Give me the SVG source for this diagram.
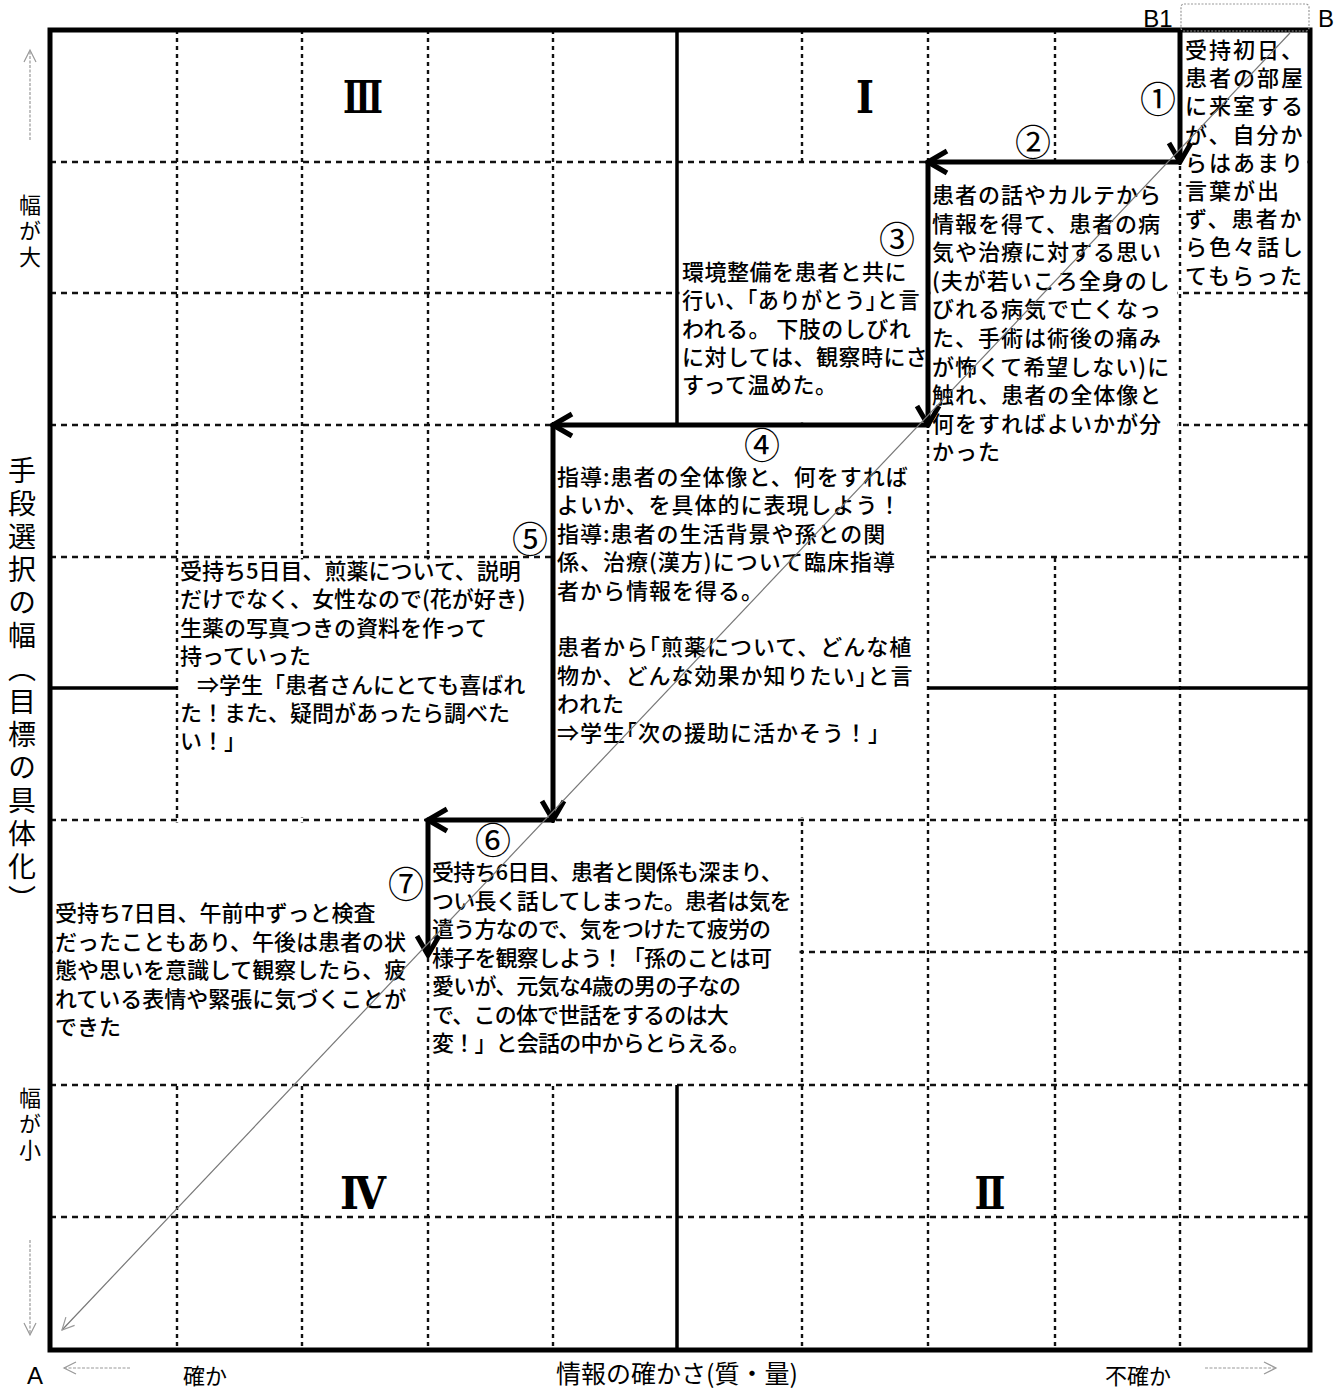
<svg xmlns="http://www.w3.org/2000/svg" width="1343" height="1390" viewBox="0 0 1343 1390">
<style>
.hd{stroke:#111;stroke-width:2.4;stroke-dasharray:6 5;fill:none}
.vd{stroke:#111;stroke-width:2.4;stroke-dasharray:4 4;fill:none}
.solid{stroke:#000;stroke-width:3.5;fill:none}
.border{stroke:#000;stroke-width:5;fill:none}
.arrow{stroke:#000;stroke-width:5;fill:none}
.cover{fill:#fff;stroke:none}
.t{font-family:"Noto Sans CJK JP","Noto Sans",sans-serif;font-size:22px;font-weight:500;fill:#000}
.num{font-family:"Noto Sans CJK JP","DejaVu Sans",sans-serif;font-size:36px;fill:#000;text-anchor:middle;dominant-baseline:central}
.rom{font-family:"DejaVu Serif","Liberation Serif",serif;font-weight:bold;font-size:44px;fill:#000;text-anchor:middle;dominant-baseline:central}
.ax{font-family:"Noto Sans CJK JP",sans-serif;font-size:22px;fill:#000}
.h{font-feature-settings:"halt" 1}
.gray{stroke:#999;stroke-width:1.2;fill:none;stroke-dasharray:3 1.5}
</style>
<defs>
<marker id="ah" markerUnits="userSpaceOnUse" markerWidth="30" markerHeight="30" viewBox="0 0 30 30" refX="27" refY="15" orient="auto"><path d="M8,4 L27,15 L8,26" fill="none" stroke="#000" stroke-width="5"/></marker>
<marker id="gh" markerUnits="userSpaceOnUse" markerWidth="20" markerHeight="20" viewBox="0 0 20 20" refX="18" refY="10" orient="auto"><path d="M6,4 L18,10 L6,16" fill="none" stroke="#999" stroke-width="1.2"/></marker>
</defs>
<rect width="1343" height="1390" fill="#fff"/>

<g id="grid">
<path class="hd" d="M50,162H1310M50,293H1310M50,425H1310M50,557H1310M50,820H1310M50,952H1310M50,1085H1310M50,1217H1310"/>
<path class="vd" d="M177,30V1350M302,30V1350M428,30V1350M553,30V1350M802,30V1350M928,30V1350M1055,30V1350M1180,30V1350"/>
</g>

<g id="covers">
<rect class="cover" x="1182.5" y="32.5" width="125" height="258"/>
<rect class="cover" x="930.5" y="164.5" width="247" height="390"/>
<rect class="cover" x="679.5" y="164.5" width="246" height="258"/>
<rect class="cover" x="555.5" y="427.5" width="370" height="390"/>
<rect class="cover" x="179.5" y="559.5" width="371" height="258"/>
<rect class="cover" x="430.5" y="822.5" width="369" height="260"/>
<rect class="cover" x="52.5" y="822.5" width="373" height="260"/>
</g>

<g id="frame">
<path class="solid" d="M677,30V425M677,1085V1350M50,688H177M928,688H1310"/>
<rect class="border" x="50" y="30" width="1260" height="1320"/>
<rect x="1181" y="4" width="128" height="27" rx="3" fill="none" stroke="#999" stroke-width="1.2" stroke-dasharray="2 1.5"/>
</g>

<g id="connectors">
<path class="arrow" d="M1180,30V162" marker-end="url(#ah)"/>
<path class="arrow" d="M1180,162H928" marker-end="url(#ah)"/>
<path class="arrow" d="M928,162V425" marker-end="url(#ah)"/>
<path class="arrow" d="M928,425H553" marker-end="url(#ah)"/>
<path class="arrow" d="M553,425V820" marker-end="url(#ah)"/>
<path class="arrow" d="M553,820H428" marker-end="url(#ah)"/>
<path class="arrow" d="M428,820V955" marker-end="url(#ah)"/>
</g>

<g id="node1">
<text class="t" letter-spacing="2" y="58"><tspan x="1185">受持初日、</tspan><tspan x="1185" dy="28.2">患者の部屋</tspan><tspan x="1185" dy="28.2">に来室する</tspan><tspan x="1185" dy="28.2">が、自分か</tspan><tspan x="1185" dy="28.2">らはあまり</tspan><tspan x="1185" dy="28.2">言葉が出</tspan><tspan x="1185" dy="28.2">ず、患者か</tspan><tspan x="1185" dy="28.2">ら色々話し</tspan><tspan x="1185" dy="28.2">てもらった</tspan></text>
<text class="num" x="1158" y="97">①</text>
</g>

<g id="node2">
<text class="t" letter-spacing="1" y="203"><tspan x="932">患者の話やカルテから</tspan><tspan x="932" dy="28.6">情報を得て、患者の病</tspan><tspan x="932" dy="28.6">気や治療に対する思い</tspan><tspan x="932" dy="28.6">(夫が若いころ全身のし</tspan><tspan x="932" dy="28.6">びれる病気で亡くなっ</tspan><tspan x="932" dy="28.6">た、手術は術後の痛み</tspan><tspan x="932" dy="28.6">が怖くて希望しない)に</tspan><tspan x="932" dy="28.6">触れ、患者の全体像と</tspan><tspan x="932" dy="28.6">何をすればよいかが分</tspan><tspan x="932" dy="28.6">かった</tspan></text>
<text class="num" x="1033" y="140">②</text>
</g>

<g id="node3">
<text class="t" letter-spacing="0.5" y="280"><tspan x="682">環境整備を患者と共に</tspan><tspan x="682" dy="28.3" textLength="238" lengthAdjust="spacingAndGlyphs">行い、<tspan class="h">「</tspan>ありがとう<tspan class="h">」</tspan>と言</tspan><tspan x="682" dy="28.3">われる。 下肢のしびれ</tspan><tspan x="682" dy="28.3">に対しては、観察時にさ</tspan><tspan x="682" dy="28.3">すって温めた。</tspan></text>
<text class="num" x="897" y="237">③</text>
</g>

<g id="node4">
<text class="t" letter-spacing="1" y="485"><tspan x="557">指導:患者の全体像と、何をすれば</tspan><tspan x="557" dy="28.4">よいか、を具体的に表現しよう！</tspan><tspan x="557" dy="28.4">指導:患者の生活背景や孫との関</tspan><tspan x="557" dy="28.4">係、治療(漢方)について臨床指導</tspan><tspan x="557" dy="28.4">者から情報を得る。</tspan><tspan x="557" dy="56.8">患者から<tspan class="h">「</tspan>煎薬について、どんな植</tspan><tspan x="557" dy="28.4">物か、どんな効果か知りたい<tspan class="h">」</tspan>と言</tspan><tspan x="557" dy="28.4">われた</tspan><tspan x="557" dy="28.4">⇒学生<tspan class="h">「</tspan>次の援助に活かそう！<tspan class="h">」</tspan></tspan></text>
<text class="num" x="762" y="443">④</text>
</g>

<g id="node5">
<text class="t" y="579"><tspan x="180">受持ち5日目、煎薬について、説明</tspan><tspan x="180" dy="28.4">だけでなく、女性なので(花が好き)</tspan><tspan x="180" dy="28.4">生薬の写真つきの資料を作って</tspan><tspan x="180" dy="28.4">持っていった</tspan><tspan x="197" dy="28.4">⇒学生「患者さんにとても喜ばれ</tspan><tspan x="180" dy="28.4">た！また、疑問があったら調べた</tspan><tspan x="180" dy="28.4">い！」</tspan></text>
<text class="num" x="530" y="537">⑤</text>
</g>

<g id="node6">
<text class="t" letter-spacing="-0.8" y="880"><tspan x="432">受持ち6日目、患者と関係も深まり、</tspan><tspan x="432" dy="28.5">つい長く話してしまった。患者は気を</tspan><tspan x="432" dy="28.5">遣う方なので、気をつけたて疲労の</tspan><tspan x="432" dy="28.5">様子を観察しよう！「孫のことは可</tspan><tspan x="432" dy="28.5">愛いが、元気な4歳の男の子なの</tspan><tspan x="432" dy="28.5">で、この体で世話をするのは大</tspan><tspan x="432" dy="28.5">変！」と会話の中からとらえる。</tspan></text>
<text class="num" x="493" y="838">⑥</text>
</g>

<g id="node7">
<text class="t" y="921"><tspan x="55">受持ち7日目、午前中ずっと検査</tspan><tspan x="55" dy="28.5">だったこともあり、午後は患者の状</tspan><tspan x="55" dy="28.5">態や思いを意識して観察したら、疲</tspan><tspan x="55" dy="28.5">れている表情や緊張に気づくことが</tspan><tspan x="55" dy="28.5">できた</tspan></text>
<text class="num" x="406" y="882">⑦</text>
</g>

<g id="diagonal">
<path d="M1290,33L62,1330" stroke="#777" stroke-width="1.2" fill="none" marker-end="url(#gh)"/>
</g>

<g id="quadrants">
<text class="rom" x="363" y="97" textLength="40" lengthAdjust="spacingAndGlyphs">Ⅲ</text>
<text class="rom" x="865" y="97" textLength="18" lengthAdjust="spacingAndGlyphs">Ⅰ</text>
<text class="rom" x="363" y="1193" textLength="46" lengthAdjust="spacingAndGlyphs">Ⅳ</text>
<text class="rom" x="990" y="1193" textLength="31" lengthAdjust="spacingAndGlyphs">Ⅱ</text>
</g>

<g id="axes">
<path class="gray" d="M30,140V50" marker-end="url(#gh)"/>
<path class="gray" d="M30,1240V1335" marker-end="url(#gh)"/>
<path class="gray" d="M130,1368H64" marker-end="url(#gh)"/>
<path class="gray" d="M1205,1368H1276" marker-end="url(#gh)"/>
<text class="ax" x="30" y="194" style="writing-mode:vertical-rl" letter-spacing="4">幅が大</text>
<text class="ax" x="30" y="1087" style="writing-mode:vertical-rl" letter-spacing="4">幅が小</text>
<text class="ax" x="22" y="456" style="writing-mode:vertical-rl;font-size:28px" letter-spacing="5">手段選択の幅（目標の具体化）</text>
<text class="ax" x="205" y="1384" text-anchor="middle">確か</text>
<text class="ax" x="1138" y="1384" text-anchor="middle">不確か</text>
<text class="ax" x="677" y="1383" text-anchor="middle" style="font-size:25px">情報の確かさ(質・量)</text>
<text x="35" y="1384" font-family="Liberation Sans, Arial, sans-serif" font-size="24" text-anchor="middle">A</text>
<text x="1158" y="27" font-family="Liberation Sans, Arial, sans-serif" font-size="24" text-anchor="middle">B1</text>
<text x="1326" y="27" font-family="Liberation Sans, Arial, sans-serif" font-size="24" text-anchor="middle">B</text>
</g>
</svg>
